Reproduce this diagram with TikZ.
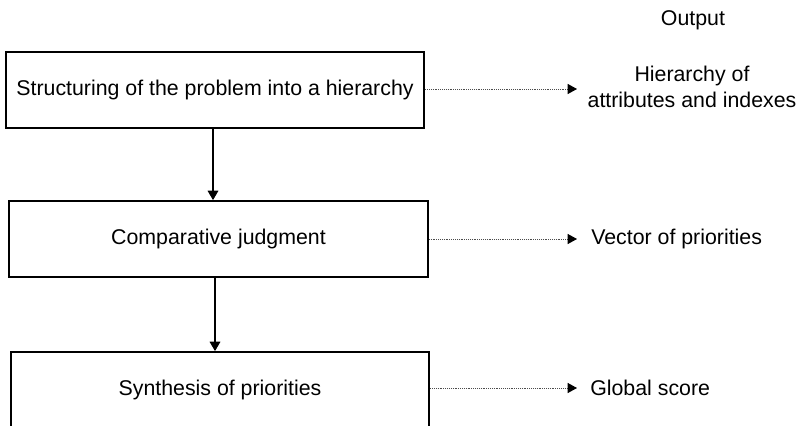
\documentclass[tikz,border=0pt]{standalone}
\usepackage{fontspec}
\setmainfont{Liberation Sans}
\usetikzlibrary{arrows.meta}
\begin{document}
\begin{tikzpicture}[x=0.75pt,y=-0.75pt,
  font=\fontsize{16pt}{19pt}\selectfont,
  stagebox/.style={draw=black,line width=1.4pt,minimum width=314pt,minimum height=57pt,inner sep=0pt},
  flow/.style={line width=0.8pt,-{Triangle[length=7pt,width=8pt]}},
  outlink/.style={line width=0.7pt,black!70,dash pattern=on 0.7pt off 0.7pt,
    -{Triangle[length=7pt,width=7.5pt,color=black,fill=black]}},
  outtext/.style={inner sep=0pt,align=center}]
\useasboundingbox (0,0) rectangle (799,425);
\clip (0,0) rectangle (799,425);

% process stages
\node[stagebox] (b1) at (215,90) {Structuring of the problem into a hierarchy};
\node[stagebox] (b2) at (218.5,239) {Comparative judgment};
\node[stagebox] (b3) at (220,390) {Synthesis of priorities};

% outputs
\node[outtext] (out) at (693,20) {Output};
\node[outtext] (o1) at (692,87) {Hierarchy of\\attributes and indexes};
\node[outtext,anchor=west] (o2) at (591,239) {Vector of priorities};
\node[outtext,anchor=west] (o3) at (590,388) {Global score};
\coordinate (t1) at (577,89);
\coordinate (t2) at (577,239);
\coordinate (t3) at (577,388);

% flow between stages
\draw[flow] ([xshift=-1.5pt]b1.south) -- ([xshift=-1.5pt]b1.south |- b2.north);
\draw[flow] (b2.south -| b1.south) -- (b1.south |- b3.north);

% stage outputs
\draw[outlink] (b1.east |- t1) -- (t1);
\draw[outlink] (b2.east |- t2) -- (t2);
\draw[outlink] (b3.east |- t3) -- (t3);
\end{tikzpicture}
\end{document}
